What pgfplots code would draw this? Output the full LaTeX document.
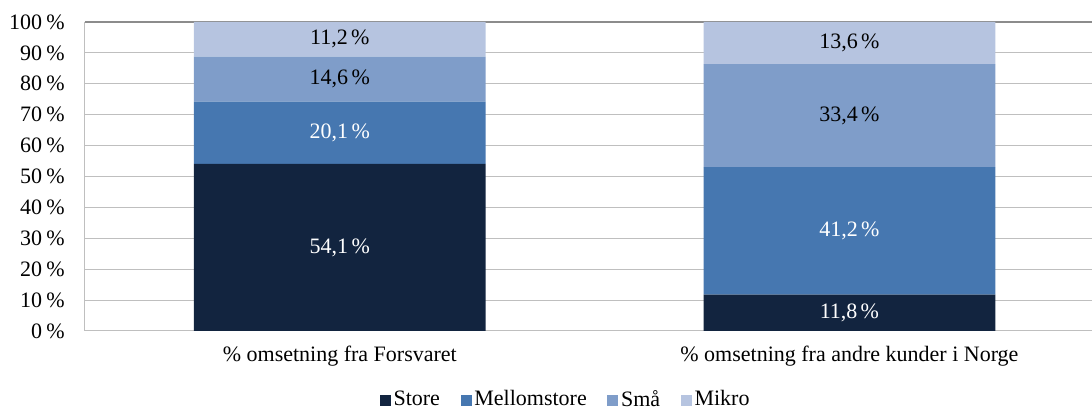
\documentclass[border=0pt]{standalone}
\usepackage{pgfplots}
\pgfplotsset{compat=1.18}
\usepackage{pgfplotstable}
\usepackage{fontspec}
\setmainfont{Liberation Serif}
\definecolor{cStore}{HTML}{12243F}
\definecolor{cMellom}{HTML}{4677B0}
\definecolor{cSmaa}{HTML}{7F9DC9}
\definecolor{cMikro}{HTML}{B6C4E0}
\definecolor{cGrid}{HTML}{BFBFBF}
\definecolor{cTop}{HTML}{8C8C8C}
\pgfplotstableread{
x store mellom smaa mikro
0 54.1 20.1 14.6 11.2
1 11.8 41.2 33.4 13.6
}\data
\begin{document}
\fontsize{16.5}{19}\selectfont
\begin{tikzpicture}
\begin{axis}[
  scale only axis, width=755.25pt, height=231.75pt,
  ybar stacked, bar width=0.5725,
  xmin=-0.5, xmax=1.476, ymin=0, ymax=100,
  xtick={0,1},
  xticklabels={\% omsetning fra Forsvaret, \% omsetning fra andre kunder i Norge},
  ytick={0,10,...,90},
  yticklabel={\pgfmathprintnumber[assume math mode=true]{\tick}\hspace{0.2em}\%},
  yticklabel style={inner sep=0pt, xshift=-15pt, font=\fontsize{16.5}{19}\selectfont},
  extra y ticks={100},
  extra y tick labels={100\hspace{0.2em}\%},
  extra y tick style={grid style={cTop, line width=0.9pt}},
  xticklabel style={anchor=base, inner sep=0pt, yshift=-23.25pt, font=\fontsize{16.5}{19}\selectfont},
  major tick length=0pt,
  ymajorgrids, grid style={cGrid, line width=0.75pt},
  axis lines*=left,
  axis line style={cGrid, line width=0.75pt},
  point meta=explicit,
  nodes near coords={\pgfmathprintnumber[fixed,fixed zerofill,precision=1,use comma,assume math mode=true]{\pgfplotspointmeta}\hspace{0.15em}\%},
  every node near coord/.append style={font=\fontsize{16.5}{19}\selectfont, anchor=center},
  legend style={at={(0.4777,-0.2233)}, anchor=center, draw=none, fill=none,
    legend columns=-1, font=\fontsize{16.5}{19}\selectfont,
    nodes={inner sep=2pt},
    /tikz/every even column/.append style={column sep=13.5pt}},
  legend image code/.code={\fill[#1] (0pt,-4.2pt) rectangle (8.25pt,4.05pt);},
]
\addplot[fill=cStore, draw=none, every node near coord/.append style={text=white}] table[x=x, y=store, meta=store] {\data};
\addlegendentry{Store}
\addplot[fill=cMellom, draw=none, every node near coord/.append style={text=white}] table[x=x, y=mellom, meta=mellom] {\data};
\addlegendentry{Mellomstore}
\addplot[fill=cSmaa, draw=none, every node near coord/.append style={text=black}] table[x=x, y=smaa, meta=smaa] {\data};
\addlegendentry{Små}
\addplot[fill=cMikro, draw=none, every node near coord/.append style={text=black}] table[x=x, y=mikro, meta=mikro] {\data};
\addlegendentry{Mikro}
\end{axis}
\pgfresetboundingbox
\path ([xshift=-63.75pt,yshift=-59.25pt]current axis.south west) rectangle ([yshift=16.5pt]current axis.north east);
\end{tikzpicture}
\end{document}
